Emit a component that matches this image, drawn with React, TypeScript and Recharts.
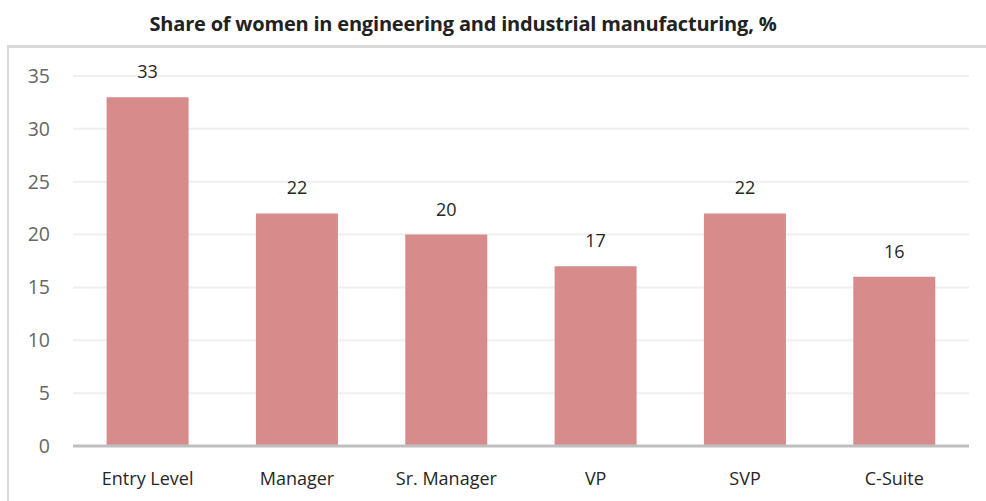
import React from "react";
import { BarChart, Bar, XAxis, YAxis, CartesianGrid, LabelList } from "recharts";

const categories = ["Entry Level", "Manager", "Sr. Manager", "VP", "SVP", "C-Suite"];
const shares = [33, 22, 20, 17, 22, 16];
const yTicks = [0, 5, 10, 15, 20, 25, 30, 35];

const data = categories.map((name, i) => ({ name, value: shares[i] }));

const tickFont = "'Open Sans', sans-serif";

export default function App() {
  return (
    <div style={{ position: "absolute", left: 0, top: 0, width: 986, height: 501, background: "#fff", overflow: "hidden" }}>
      <div
        style={{
          position: "absolute",
          left: 0,
          right: 0,
          top: 10,
          textAlign: "center",
          paddingRight: 60,
          fontFamily: "'Open Sans', sans-serif",
          fontWeight: 700,
          fontSize: 20,
          letterSpacing: -0.2,
          color: "#222",
        }}
      >
        Share of women in engineering and industrial manufacturing, %
      </div>
      <div
        style={{
          position: "absolute",
          left: 7,
          top: 45,
          width: 990,
          height: 470,
          borderLeft: "2px solid #d9d9d9",
          borderTop: "3px solid #d9d9d9",
        }}
      />
      <div style={{ position: "absolute", left: 0, top: 0 }}>
        <BarChart
          width={986}
          height={501}
          data={data}
          margin={{ top: 76, right: 17, bottom: 0, left: 0 }}
          barCategoryGap="22.5%"
        >
          <CartesianGrid vertical={false} stroke="#efefef" strokeWidth={2} />
          <YAxis
            width={73}
            domain={[0, 35]}
            ticks={yTicks}
            axisLine={false}
            tickLine={false}
            tickSize={0}
            tickMargin={23}
            tick={{ fill: "#666666", fontSize: 19.5, fontFamily: tickFont }}
          />
          <XAxis
            dataKey="name"
            height={55}
            axisLine={{ stroke: "#bfbfbf", strokeWidth: 3 }}
            tickLine={false}
            tickSize={0}
            tickMargin={26}
            tick={{ fill: "#262626", fontSize: 18, fontFamily: tickFont }}
          />
          <Bar dataKey="value" fill="#d88b8b" isAnimationActive={false}>
            <LabelList
              dataKey="value"
              position="top"
              offset={19}
              style={{ fill: "#262626", fontSize: 18, fontFamily: tickFont }}
            />
          </Bar>
        </BarChart>
      </div>
    </div>
  );
}
